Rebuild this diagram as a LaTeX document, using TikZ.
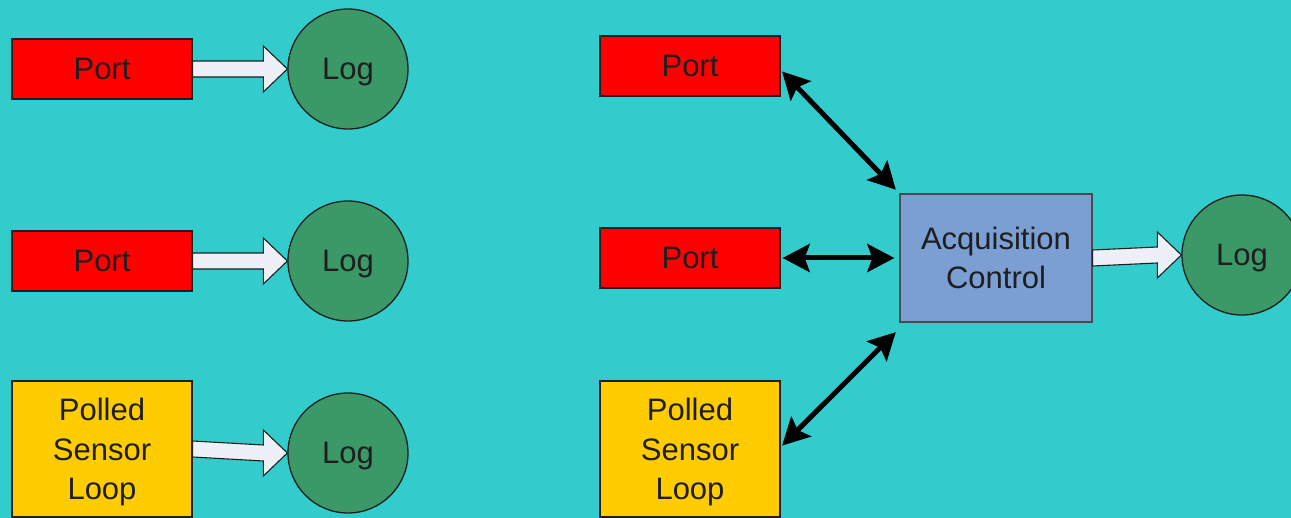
\documentclass[tikz,border=0pt]{standalone}
\usepackage{fontspec}
\setmainfont{Liberation Sans}
\usetikzlibrary{arrows.meta,calc}
\definecolor{bgcyan}{HTML}{33CCCC}
\definecolor{portred}{HTML}{FF0000}
\definecolor{pollyellow}{HTML}{FFCC00}
\definecolor{loggreen}{HTML}{3A9966}
\definecolor{ctrlblue}{HTML}{7B9ED3}
\definecolor{arrowfill}{HTML}{EEF0F7}
\definecolor{ink}{HTML}{1E1E1E}

% white block arrow from the east side of #1 to the west side of #2
\newcommand\flowarrow[2]{%
  \path[blockarr] let \p1=(#1.east), \p2=(#2.west) in
    (\x1,\y1+8pt) -- (\x2-24pt,\y2+8pt) -- (\x2-24pt,\y2+23pt) -- (\x2,\y2)
    -- (\x2-24pt,\y2-23pt) -- (\x2-24pt,\y2-8pt) -- (\x1,\y1-8pt) -- cycle;}
% last line set without its descender, so the lines sit centred in the box
\newcommand\nodepth[1]{\raisebox{0pt}[\height][0pt]{#1}}

\begin{document}
\begin{tikzpicture}[x=1pt,y=-1pt,
  every node/.style={text=ink,font=\fontsize{31}{39.5}\selectfont,inner sep=0pt,align=center},
  oneline/.style={text height=22pt,text depth=0pt},
  portbox/.style={oneline,draw=ink,line width=1.3pt,fill=portred,minimum width=180pt,minimum height=60pt},
  pollbox/.style={draw=ink,line width=1.3pt,fill=pollyellow,minimum width=180pt,minimum height=136pt},
  logcirc/.style={oneline,circle,draw=ink,line width=1.3pt,fill=loggreen,minimum size=120pt},
  ctrlbox/.style={draw=ink!80,line width=1.3pt,fill=ctrlblue,minimum width=192pt,minimum height=128pt},
  blockarr/.style={draw=ink,line width=1.1pt,fill=arrowfill,line join=miter},
  biarrow/.style={line width=5pt,{Stealth[length=27pt,width=28pt,inset=5pt]}-{Stealth[length=27pt,width=28pt,inset=5pt]},shorten <=2pt,shorten >=5pt}]
\fill[bgcyan] (0,0) rectangle (1291,518);
\useasboundingbox (0,0) rectangle (1291,518);

% left: each source logs on its own
\node[portbox] (portA) at (102,69) {Port};
\node[logcirc] (logA) at (348,69) {Log};
\node[portbox] (portB) at (102,261) {Port};
\node[logcirc] (logB) at (348,261) {Log};
\node[pollbox] (pollA) at (102,449) {Polled\\Sensor\\\nodepth{Loop}};
\node[logcirc] (logC) at (348,453) {Log};
\flowarrow{portA}{logA}
\flowarrow{portB}{logB}
\flowarrow{pollA}{logC}

% right: sources go through acquisition control
\node[portbox] (portC) at (690,66) {Port};
\node[portbox] (portD) at (690,258) {Port};
\node[pollbox] (pollB) at (690,449) {Polled\\Sensor\\\nodepth{Loop}};
\node[ctrlbox] (ctrl) at (996,258) {Acquisition\\Control};
\node[logcirc] (logD) at (1242,255) {Log};
\draw[biarrow] ($(portC.east)+(0,4)$) -- (ctrl.north west);
\draw[biarrow] (portD.east) -- (ctrl.west);
\draw[biarrow] ($(pollB.east)+(0,-2)$) -- ($(ctrl.south west)+(0,6)$);
\flowarrow{ctrl}{logD}
\end{tikzpicture}
\end{document}
